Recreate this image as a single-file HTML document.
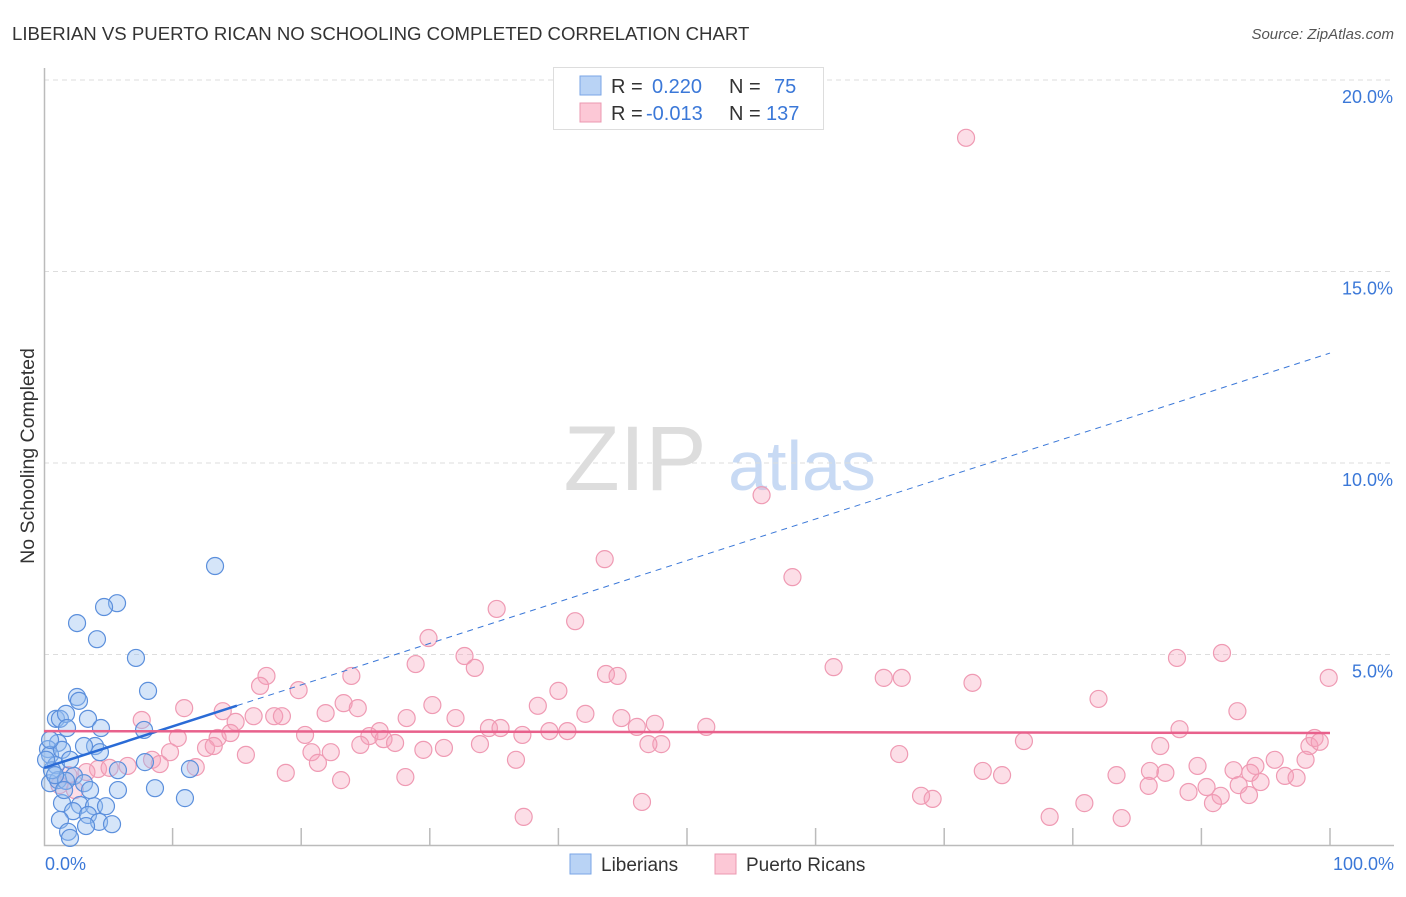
<!DOCTYPE html>
<html><head><meta charset="utf-8"><style>
body{margin:0;background:#fff;font-family:"Liberation Sans",sans-serif}
svg text{font-family:"Liberation Sans",sans-serif}
</style></head><body>
<svg id="c" width="1406" height="892" viewBox="0 0 1406 892">
<text x="12" y="40" font-size="18.6" fill="#333">LIBERIAN VS PUERTO RICAN NO SCHOOLING COMPLETED CORRELATION CHART</text>
<text x="1394" y="39" font-size="15" fill="#555" font-style="italic" text-anchor="end">Source: ZipAtlas.com</text>
<text x="34" y="456" font-size="19.5" fill="#333" text-anchor="middle" transform="rotate(-90 34 456)">No Schooling Completed</text>
<g><text x="635" y="490" font-size="92" fill="#ddd" font-family="Liberation Serif" text-anchor="middle">ZIP</text><text x="802" y="490" font-size="70" fill="#c8daf4" text-anchor="middle">atlas</text></g>
<g id="grid"></g><g id="pts"></g><g id="trend"></g>
<g>
<rect x="553.5" y="67.5" width="270" height="62" fill="#fff" stroke="#ddd"/>
<rect x="580" y="76" width="21" height="19" fill="#b9d3f5" stroke="#7aa6e6"/>
<rect x="580" y="103" width="21" height="19" fill="#fcc8d6" stroke="#eb98b0"/>
<text x="611" y="93" font-size="20" fill="#333">R =</text><text x="652" y="93" font-size="20" fill="#3b78d8">0.220</text>
<text x="729" y="93" font-size="20" fill="#333">N =</text><text x="774" y="93" font-size="20" fill="#3b78d8">75</text>
<text x="611" y="120" font-size="20" fill="#333">R =</text><text x="646" y="120" font-size="20" fill="#3b78d8">-0.013</text>
<text x="729" y="120" font-size="20" fill="#333">N =</text><text x="766" y="120" font-size="20" fill="#3b78d8">137</text>
</g>
<g>
<rect x="570" y="854" width="21" height="20" fill="#b9d3f5" stroke="#7aa6e6"/><text x="601" y="871" font-size="19" fill="#333">Liberians</text>
<rect x="715" y="854" width="21" height="20" fill="#fcc8d6" stroke="#eb98b0"/><text x="746" y="871" font-size="19" fill="#333">Puerto Ricans</text>
</g>
</svg>
<script>
const yTicks=[5,10,15,20];
const yTickLabels=["5.0%","10.0%","15.0%","20.0%"];
const xTickLabels=["0.0%","100.0%"];
const blueX=[13.3,5.68,4.67,2.57,4.12,7.15,8.09,2.57,2.72,0.93,1.24,1.71,3.42,1.79,7.78,4.43,3.97,3.11,1.09,0.31,0.47,1.40,4.35,0.93,7.85,11.35,5.75,2.33,0.47,1.09,1.71,3.11,5.75,8.63,10.96,1.40,2.80,3.89,4.82,2.26,3.42,1.24,4.28,5.29,3.27,1.87,2.02,0.62,0.16,0.86,1.56,3.58,0.47,2.02];
const blueY=[7.31,6.34,6.24,5.82,5.40,4.91,4.05,3.89,3.79,3.32,3.32,3.45,3.32,3.08,3.03,3.08,2.61,2.61,2.69,2.53,2.38,2.51,2.45,2.11,2.19,2.01,1.98,1.83,1.64,1.72,1.70,1.64,1.46,1.51,1.25,1.12,1.07,1.04,1.04,0.91,0.81,0.68,0.63,0.57,0.52,0.37,0.21,1.98,2.25,1.85,1.46,1.46,2.77,2.25];
const pinkX=[71.7,55.8,43.6,58.2,35.2,41.3,29.9,32.7,28.9,33.5,91.6,88.1,61.4,17.3,23.9,43.7,44.6,65.3,66.7,72.2,99.9,16.8,19.8,40.0,10.9,13.9,23.3,24.4,30.2,38.4,82.0,92.8,21.9,32.0,28.2,42.1,44.9,47.5,7.6,14.9,16.3,17.9,18.5,20.3,25.3,26.1,26.4,27.3,34.6,35.5,37.2,39.3,40.7,46.1,51.5,10.4,13.5,14.5,9.8,12.6,13.2,15.7,20.8,22.3,24.6,29.5,31.1,33.9,48.0,47.0,76.2,86.8,88.3,98.4,98.8,99.2,98.1,95.7,94.2,93.8,92.5,89.7,66.5,86.0,87.2,8.4,6.5,4.2,3.3,5.1,9.0,11.8,18.8,21.3,28.1,23.1,36.7,73.0,74.5,83.4,89.0,90.4,91.5,92.9,93.7,94.6,96.5,97.4,85.9,68.2,69.1,80.9,90.9,78.2,83.8,46.5,37.3,1.9,1.2,2.4];
const pinkY=[18.49,9.16,7.49,7.02,6.19,5.87,5.43,4.96,4.75,4.65,5.04,4.91,4.67,4.44,4.44,4.49,4.44,4.39,4.39,4.26,4.39,4.18,4.07,4.05,3.60,3.52,3.73,3.60,3.68,3.66,3.84,3.52,3.47,3.34,3.34,3.45,3.34,3.19,3.29,3.24,3.39,3.39,3.39,2.90,2.87,3.00,2.79,2.69,3.08,3.08,2.90,3.00,3.00,3.11,3.11,2.82,2.82,2.95,2.45,2.56,2.61,2.38,2.45,2.45,2.64,2.51,2.56,2.66,2.66,2.66,2.74,2.61,3.05,2.61,2.82,2.72,2.25,2.25,2.09,1.91,1.98,2.09,2.40,1.96,1.91,2.25,2.09,2.01,1.93,2.04,2.14,2.06,1.91,2.17,1.80,1.72,2.25,1.96,1.85,1.85,1.41,1.54,1.31,1.59,1.33,1.67,1.83,1.78,1.57,1.31,1.23,1.12,1.12,0.76,0.73,1.15,0.76,1.85,1.59,1.46];
const blueTrend=[2.04,12.87];
const pinkTrend=[3.0,2.95];
const NS="http://www.w3.org/2000/svg";
const X=v=>44+v*12.86, Y=v=>846-v*38.3;
function mk(t,a,p){const e=document.createElementNS(NS,t);for(const k in a)e.setAttribute(k,a[k]);p.appendChild(e);return e;}
const g=document.getElementById('grid');
yTicks.forEach((t,i)=>{
 const l=mk('line',{x1:44,x2:1394,y1:Y(t),y2:Y(t),stroke:'#ddd','stroke-dasharray':'5,4'},g);
 
 
 const tx=mk('text',{x:1393,y:Y(t)+23,'font-size':18,fill:'#3b78d8','text-anchor':'end'},g);
 tx.textContent=yTickLabels[i];
 
 
});
const ax=mk('path',{d:'M44.5 68V845.5H1394',fill:'none',stroke:'#bbb','stroke-width':1.5},g);


for(let i=1;i<=10;i++){const t=mk('line',{x1:X(i*10),x2:X(i*10),y1:828,y2:845,stroke:'#bbb','stroke-width':1.5},g);
 
 }
[[0,'start',45],[100,'end',1394]].forEach((d,i)=>{const t=mk('text',{x:d[2],y:870,'font-size':18,fill:'#3b78d8','text-anchor':d[1]},g);t.textContent=xTickLabels[i];
 
 });
const p=document.getElementById('pts');
pinkX.forEach((x,i)=>{const c=mk('circle',{cx:X(x),cy:Y(pinkY[i]),r:8.5,fill:'rgba(247,160,185,0.35)',stroke:'#ef9ab3','stroke-width':1.2},p);
 
 });
blueX.forEach((x,i)=>{const c=mk('circle',{cx:X(x),cy:Y(blueY[i]),r:8.5,fill:'rgba(150,190,240,0.4)',stroke:'#5b8fdc','stroke-width':1.2},p);
 
 });
const tr=document.getElementById('trend');
const bAt=v=>blueTrend[0]+(blueTrend[1]-blueTrend[0])*v/100;
let l1=mk('line',{x1:X(15),y1:Y(bAt(15)),x2:X(100),y2:Y(bAt(100)),stroke:'#3b78d8','stroke-width':1,'stroke-dasharray':'6,5'},tr);


let l2=mk('line',{x1:X(0),y1:Y(bAt(0)),x2:X(15),y2:Y(bAt(15)),stroke:'#2a6bd6','stroke-width':2.5},tr);


let l3=mk('line',{x1:X(0),y1:Y(pinkTrend[0]),x2:X(100),y2:Y(pinkTrend[1]),stroke:'#e8618c','stroke-width':2.5},tr);


</script>
</body></html>
